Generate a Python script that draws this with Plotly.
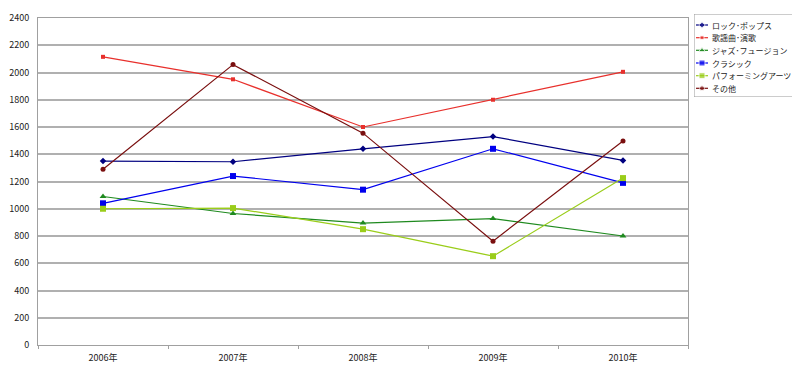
import plotly.graph_objects as go

years = ["2006年", "2007年", "2008年", "2009年", "2010年"]
rock_pops = [1350, 1345, 1440, 1530, 1355]
kayo_enka = [2115, 1950, 1600, 1800, 2005]
jazz_fusion = [1090, 965, 895, 928, 800]
classic = [1040, 1240, 1140, 1440, 1190]
performing = [1000, 1005, 850, 652, 1225]
others = [1290, 2058, 1555, 762, 1498]

series = [
    ("ロック･ポップス", rock_pops, "#000080", "diamond", 5),
    ("歌謡曲･演歌", kayo_enka, "#e8302c", "square", 4),
    ("ジャズ･フュージョン", jazz_fusion, "#1f8a1f", "triangle-up", 6),
    ("クラシック", classic, "#0000ee", "square", 6),
    ("パフォーミングアーツ", performing, "#9acd1a", "square", 6),
    ("その他", others, "#7a0f0f", "circle", 5),
]

# the page body adds an 8px margin, so the figure is drawn 8px smaller
OFF = 8
W, H = 800 - OFF, 370 - OFF
ML, MR, MT, MB = 38 - OFF, 0, 14 - OFF, 25
plot_right = 688 - OFF
plot_top = 18 - OFF
plot_bottom = H - MB
area_w = W - ML - MR
area_h = H - MT - MB

# legend geometry (figure pixels)
leg_left, leg_right, leg_top, leg_bottom = 694 - OFF, 797 - OFF, 14 - OFF, 97 - OFF
leg_rows = [r - OFF for r in [25, 37.7, 50.3, 63, 75.7, 88.3]]

font = "Noto Sans CJK JP"
fig = go.Figure()
for name, vals, color, sym, size in series:
    fig.add_trace(go.Scatter(
        x=years, y=vals, name=name, mode="lines+markers",
        line=dict(color=color, width=1.2),
        marker=dict(symbol=sym, size=size, color=color),
        xaxis="x", yaxis="y", showlegend=False,
    ))

# legend entries drawn on an auxiliary pixel-scaled axis
for (name, vals, color, sym, size), ry in zip(series, leg_rows):
    fig.add_trace(go.Scatter(
        x=[leg_left + 2, leg_left + 8, leg_left + 14], y=[ry, ry, ry],
        mode="lines+markers",
        line=dict(color=color, width=1.2),
        marker=dict(symbol=sym, size=[0, size, 0], color=color),
        xaxis="x2", yaxis="y2", showlegend=False, hoverinfo="skip",
    ))
    fig.add_annotation(
        x=leg_left + 16, y=ry, xref="x2", yref="y2", text=name, showarrow=False,
        xanchor="left", yanchor="middle",
        font=dict(family=font, size=8, color="#222"),
    )

fig.add_shape(type="rect", xref="x2", yref="y2",
              x0=leg_left, x1=leg_right, y0=leg_top, y1=leg_bottom,
              line=dict(color="#999", width=1), fillcolor="rgba(0,0,0,0)")

fig.update_layout(
    width=W, height=H,
    margin=dict(l=ML, r=MR, t=MT, b=MB, autoexpand=False),
    paper_bgcolor="white", plot_bgcolor="white",
    font=dict(family=font, size=9, color="#222"),
    showlegend=False,
    xaxis=dict(
        domain=[0, (plot_right - ML) / area_w],
        type="category", range=[-0.5, 4.5],
        showgrid=False, showline=True, linecolor="#a0a0a0", linewidth=1,
        mirror=True, ticks="outside", tickson="boundaries", ticklen=3,
        tickcolor="#a0a0a0", ticklabelstandoff=4,
        tickfont=dict(family=font, size=9, color="#222"),
    ),
    yaxis=dict(
        domain=[0, (plot_bottom - plot_top) / area_h],
        range=[0, 2400], dtick=200, showgrid=True, gridcolor="#b0b0b0",
        gridwidth=1.5, showline=True, linecolor="#a0a0a0", linewidth=1, mirror=True,
        ticks="", zeroline=False, ticklabelstandoff=6,
        tickfont=dict(family=font, size=9, color="#222"),
    ),
    xaxis2=dict(
        domain=[(leg_left - ML) / area_w, (leg_right - ML) / area_w],
        range=[leg_left, leg_right], visible=False, anchor="y2",
    ),
    yaxis2=dict(
        domain=[(plot_bottom - leg_bottom) / area_h, (plot_bottom - leg_top) / area_h],
        range=[leg_bottom, leg_top], visible=False, anchor="x2",
    ),
)

fig.write_html("out.html")
